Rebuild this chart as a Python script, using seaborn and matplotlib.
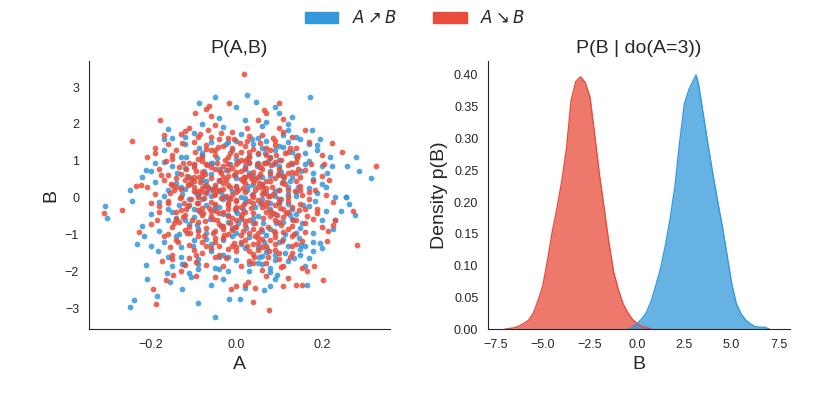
import numpy as np
import matplotlib
matplotlib.use("Agg")
import matplotlib.pyplot as plt
import seaborn as sns
from matplotlib.patches import Patch

# samples of (A, B), A -> B (blue) and A <- B (red)
up_pts = [
    (-0.087, 2.57), (-0.049, 2.72), (0.0, 2.46), (-0.16, 1.87), (-0.22, 0.55), (-0.211, 0.75), (-0.249, 0.2),
    (0.025, 2.78), (0.172, 2.74), (0.046, 2.61), (0.09, 2.46), (0.178, 1.83), (0.197, 1.60), (0.281, 1.09),
    (0.259, 0.86), (0.287, 0.73), (0.316, 0.52), (0.256, 0.02), (0.224, 0.86), (0.212, 0.66),
    (-0.306, -0.22), (-0.303, -0.55), (-0.243, -0.08), (-0.232, -1.25), (-0.211, -1.82), (-0.209, -2.20),
    (-0.185, -2.67), (-0.240, -2.78), (-0.248, -2.96), (-0.163, -2.04), (-0.155, -2.29), (-0.128, -2.47),
    (-0.09, -2.87), (-0.05, -3.24), (-0.105, -2.16), (-0.058, -2.36), (-0.128, -1.80), (-0.122, -1.80),
    (-0.2, -1.32), (-0.215, -1.05), (-0.182, -1.45), (-0.018, -2.74),
    (0.008, -2.74), (0.064, -2.52), (0.08, -2.39), (0.165, -2.38), (0.096, -2.10), (0.17, -1.63), (0.2, -1.38),
    (0.195, -1.24), (0.227, -0.86), (0.232, -0.61), (0.277, -0.48), (0.246, -0.36), (0.264, -0.16),
    (0.256, 0.01), (0.136, -1.65), (0.151, -1.29), (0.079, -1.91),
    (-0.12, 1.45), (0.05, 1.62), (0.11, 1.38), (-0.03, 1.91), (0.14, 1.12), (-0.17, 0.98), (0.02, 0.85),
    (0.08, 0.72), (-0.06, 0.64), (0.13, 0.55),
    (-0.14, 0.41), (0.04, 0.33), (-0.01, 0.18), (0.17, 0.27), (-0.09, 0.08), (0.06, -0.05), (0.12, -0.17),
    (-0.04, -0.26), (-0.15, -0.38), (0.09, -0.44),
    (0.01, -0.59), (-0.11, -0.71), (0.15, -0.83), (-0.07, -0.95), (0.03, -1.08), (0.1, -1.21), (-0.13, -1.34),
    (0.07, -1.47), (-0.02, -1.6), (0.05, -1.78),
    (-0.08, 1.22), (0.0, 1.05), (0.16, 0.9), (-0.19, 0.42), (0.19, 0.12), (-0.18, -0.12), (0.21, -0.35),
    (-0.16, -0.62), (0.18, -0.97), (-0.05, -1.9),
    (0.07, 2.05), (-0.1, 1.76), (0.12, 1.84), (-0.02, 1.52), (0.09, 1.29), (-0.13, 1.1), (0.03, 0.97),
    (-0.04, 0.78), (0.1, 0.61), (-0.08, 0.49),
    (0.06, 0.37), (-0.12, 0.24), (0.14, 0.15), (-0.03, 0.04), (0.02, -0.11), (-0.07, -0.19), (0.08, -0.31),
    (-0.1, -0.52), (0.04, -0.68), (0.13, -0.58),
    (-0.01, -0.82), (0.06, -0.9), (-0.14, -1.03), (0.11, -1.12), (-0.06, -1.26), (0.02, -1.38), (0.15, -1.55),
    (-0.09, -1.68), (0.08, -2.02), (-0.03, -2.21),
    (0.1, 1.02), (0.18, 0.68), (-0.2, 0.71), (0.2, 0.38), (-0.17, 0.05), (0.17, -0.22), (-0.2, -0.45),
    (0.16, -1.31), (-0.13, -1.62), (0.12, -1.72),
    (0.0, 0.52), (-0.05, 0.29), (0.04, 0.1), (0.0, -0.35), (-0.02, -0.48), (0.03, 0.66), (-0.06, 0.93),
    (0.05, 1.18), (-0.09, -0.84), (0.07, -1.02),
    (0.13, 2.2), (-0.04, 2.15), (0.19, 1.44), (-0.15, 1.63), (0.22, 1.1), (-0.22, -0.78), (0.23, 0.02),
    (0.09, -2.2), (-0.11, -2.05), (0.02, -2.45),
    (-0.07, 0.13), (0.11, 0.46), (0.09, 0.19), (-0.11, -0.03), (0.14, -0.45), (-0.03, -1.15), (0.06, -1.58),
    (-0.17, 1.3), (0.15, 1.58), (0.01, 1.72),
    (-0.1, 0.88), (-0.075, 0.31), (-0.05, -0.22), (-0.025, 0.74), (0.0, -0.95), (0.025, 0.21), (0.05, -0.5),
    (0.075, 0.99), (0.1, -0.14), (0.125, 0.45),
    (-0.12, -0.6), (-0.095, 0.12), (-0.07, -1.12), (-0.045, 1.08), (-0.02, 0.0), (0.005, -0.7), (0.03, 1.12),
    (0.055, -0.15), (0.08, -0.85), (0.105, 0.7),
    (-0.11, 0.55), (-0.085, -0.4), (-0.06, 0.2), (-0.035, -0.78), (-0.01, 1.28), (0.015, -0.3), (0.04, 0.58),
    (0.065, -1.2), (0.09, 0.05), (0.115, -1.0),
    (-0.03, -0.05), (0.02, -0.02), (0.07, 0.15), (-0.07, 0.45), (0.1, 1.4), (0.13, 0.9), (0.07, 1.55),
    (0.11, 1.7), (0.16, 1.2), (0.04, 1.45),
    (-0.06, -1.45), (0.0, -1.7), (0.05, -1.35), (-0.1, -1.15), (0.09, -1.55), (0.03, -2.0), (-0.04, -1.95),
    (0.12, -1.3), (-0.15, 0.85), (-0.16, -0.3),
    (0.145, 0.3), (0.155, -0.7), (-0.135, -0.2), (0.18, 0.5), (0.185, -0.1), (0.14, 1.65), (0.1, 2.3),
    (-0.08, 2.0), (0.16, -1.85), (-0.15, -1.85),
    (-0.138, 0.68), (-0.112, -0.22), (-0.086, 1.35), (-0.061, -0.58), (-0.035, 0.14), (-0.009, -1.05),
    (0.017, 0.5), (0.043, -0.25), (0.068, 1.2), (0.094, -0.7), (0.12, 0.3), (0.146, -1.1),
    (-0.133, -1.0), (-0.107, 0.4), (-0.081, -0.05), (-0.056, 0.95), (-0.03, -0.45), (-0.004, 0.62),
    (0.022, -0.82), (0.048, 0.85), (0.073, -1.4), (0.099, 0.22), (0.125, -0.48), (0.151, 0.72),
    (-0.128, 0.1), (-0.102, -1.3), (-0.076, 0.72), (-0.051, -0.3), (-0.025, 1.45), (0.001, -0.42),
    (0.027, 0.32), (0.053, -1.62), (0.078, 0.6), (0.104, -0.05), (0.13, 1.25), (0.156, -0.2),
    (-0.118, 1.1), (-0.092, -0.75), (-0.066, 0.3), (-0.041, -1.6), (-0.015, 0.9), (0.011, 0.02),
    (0.037, 1.6), (0.063, -0.68), (0.088, 0.92), (0.114, -1.5), (0.14, 0.05), (-0.16, 0.2),
    (0.06, 1.95), (0.12, 2.0), (0.02, 2.1), (-0.02, -2.0), (0.06, -1.8), (-0.09, -1.95), (0.17, 1.0),
    (0.18, -1.45), (-0.17, -1.2), (0.2, 0.85),
    (-0.19, 0.95), (-0.18, -0.9), (-0.17, 1.6), (-0.16, -1.6), (0.19, 1.3), (0.2, -0.6), (0.21, 0.3),
    (0.18, -1.2), (0.17, 1.45), (0.15, -1.4),
    (-0.12, 1.65), (-0.09, -1.8), (-0.06, 1.5), (-0.03, -1.55), (0.0, 1.55), (0.03, -1.8), (0.06, 1.35),
    (0.09, -1.7), (0.12, 1.5), (0.14, -0.95),
    (-0.14, -0.55), (-0.12, 0.8), (-0.1, -0.3), (-0.08, 1.15), (0.08, 1.1), (0.1, 0.85), (0.12, 0.1),
    (0.13, -0.3), (0.11, -0.65), (-0.13, 0.3),
    (0.0, 0.3), (0.02, 0.78), (0.04, -0.55), (-0.02, -0.65), (0.06, 0.55), (-0.04, 0.45), (0.08, -0.15),
    (-0.06, 0.05), (0.01, -1.25), (0.05, 0.95),
]

down_pts = [
    (-0.244, 1.54), (-0.178, 2.10), (-0.071, 2.42), (-0.063, 2.48), (-0.018, 2.56), (-0.097, 2.31),
    (-0.21, 1.09), (-0.235, 0.31), (-0.223, 0.35),
    (0.017, 3.35), (0.099, 2.57), (0.066, 2.39), (0.07, 2.29), (0.161, 1.85), (0.225, 1.49), (0.247, 1.24),
    (0.328, 0.87), (0.216, 0.49), (0.205, 0.91),
    (-0.31, -0.41), (-0.267, -0.33), (-0.174, -1.73), (-0.195, -2.48), (-0.187, -2.88), (-0.147, -2.09),
    (-0.164, -2.23), (-0.15, -1.67), (-0.227, -0.93), (-0.095, -2.13), (-0.013, -2.47),
    (0.076, -3.06), (0.04, -2.84), (0.043, -2.45), (0.02, -2.38), (0.027, -2.30), (0.109, -2.39),
    (0.14, -2.36), (0.154, -2.38), (0.203, -2.24), (0.121, -2.19), (0.183, -1.85), (0.165, -2.0),
    (0.153, -1.92), (0.282, -1.29), (0.212, -1.17), (0.226, -0.73), (0.214, -0.9), (0.274, -0.36),
    (0.226, -0.11), (0.23, -0.61), (0.105, -1.88), (0.11, -1.85),
    (-0.1, 1.51), (0.03, 1.68), (0.09, 1.44), (-0.05, 1.97), (0.12, 1.25), (-0.15, 1.05), (0.0, 0.92),
    (0.06, 0.78), (-0.08, 0.7), (0.11, 0.6),
    (-0.12, 0.47), (0.02, 0.39), (-0.03, 0.24), (0.15, 0.31), (-0.07, 0.14), (0.04, 0.01), (0.1, -0.12),
    (-0.02, -0.2), (-0.13, -0.33), (0.07, -0.4),
    (-0.01, -0.55), (-0.09, -0.66), (0.13, -0.77), (-0.05, -0.9), (0.01, -1.02), (0.08, -1.16), (-0.11, -1.29),
    (0.05, -1.42), (-0.04, -1.55), (0.03, -1.72),
    (-0.06, 1.28), (-0.02, 1.11), (0.14, 0.96), (-0.17, 0.48), (0.17, 0.16), (-0.16, -0.08), (0.19, -0.3),
    (-0.14, -0.58), (0.16, -0.92), (-0.07, -1.84),
    (0.05, 2.12), (-0.12, 1.82), (0.1, 1.9), (-0.04, 1.58), (0.07, 1.35), (-0.15, 1.16), (0.01, 1.03),
    (-0.06, 0.84), (0.08, 0.67), (-0.1, 0.55),
    (0.04, 0.43), (-0.14, 0.3), (0.12, 0.21), (-0.05, 0.09), (0.0, -0.06), (-0.09, -0.14), (0.06, -0.26),
    (-0.12, -0.47), (0.02, -0.63), (0.11, -0.53),
    (-0.03, -0.77), (0.04, -0.85), (-0.16, -0.98), (0.09, -1.07), (-0.08, -1.21), (0.0, -1.33), (0.13, -1.5),
    (-0.11, -1.63), (0.06, -1.97), (-0.05, -2.16),
    (0.08, 1.08), (0.16, 0.74), (-0.18, 0.77), (0.18, 0.44), (-0.19, 0.11), (0.15, -0.17), (-0.18, -0.4),
    (0.14, -1.26), (-0.15, -1.57), (0.1, -1.67),
    (-0.02, 0.58), (-0.07, 0.35), (0.02, 0.16), (-0.02, -0.3), (-0.04, -0.43), (0.01, 0.72), (-0.08, 0.99),
    (0.03, 1.24), (-0.11, -0.79), (0.05, -0.96),
    (0.11, 2.14), (-0.06, 2.21), (0.17, 1.5), (-0.17, 1.69), (0.2, 1.16), (-0.2, -0.72), (0.21, 0.08),
    (0.07, -2.14), (-0.13, -2.0), (0.0, -2.39),
    (-0.09, 0.19), (0.09, 0.52), (0.07, 0.25), (-0.13, 0.03), (0.12, -0.39), (-0.05, -1.09), (0.04, -1.52),
    (-0.19, 1.36), (0.13, 1.64), (-0.01, 1.78),
    (0.03, 0.62), (-0.04, 0.47), (0.05, 0.28), (-0.01, 0.07), (0.06, -0.15), (-0.06, -0.5), (0.02, -0.75),
    (-0.03, 0.85), (0.08, 0.04), (-0.08, -0.28),
    (0.0, 0.31), (-0.1, 0.82), (0.1, -0.66), (-0.02, -0.98), (0.07, 1.17), (-0.14, -1.14), (0.12, 0.88),
    (-0.07, 1.42), (0.05, -1.24), (0.01, 0.5),
    (0.15, 0.55), (-0.16, 0.62), (0.18, -0.58), (-0.18, -0.22), (0.09, -1.41), (-0.09, 1.64), (0.2, -0.8),
    (-0.21, 0.3), (0.14, 1.35), (-0.12, -1.83),
    (-0.11, 0.95), (-0.085, 0.42), (-0.06, -0.12), (-0.035, 0.66), (-0.01, -0.88), (0.015, 0.27), (0.04, -0.41),
    (0.065, 0.93), (0.09, -0.2), (0.115, 0.37),
    (-0.125, -0.52), (-0.1, 0.18), (-0.075, -1.05), (-0.05, 1.15), (-0.025, 0.05), (0.0, -0.62), (0.025, 1.06),
    (0.05, -0.07), (0.075, -0.79), (0.1, 0.77),
    (-0.115, 0.6), (-0.09, -0.33), (-0.065, 0.27), (-0.04, -0.72), (-0.015, 1.2), (0.01, -0.25), (0.035, 0.52),
    (0.06, -1.13), (0.085, 0.11), (0.11, -0.94),
    (-0.105, -0.05), (-0.08, 1.1), (-0.055, -0.57), (-0.03, 0.39), (-0.005, -1.22), (0.02, 0.81), (0.045, -0.68),
    (0.07, 0.46), (0.095, -0.46), (0.12, 0.02),
    (-0.095, 0.71), (-0.07, -0.83), (-0.045, 0.17), (-0.02, -0.15), (0.005, 0.98), (0.03, -0.96), (0.055, 0.63),
    (0.08, -0.35), (0.105, 1.02), (-0.13, 0.24),
    (-0.06, 0.52), (-0.03, -0.39), (0.0, 0.14), (0.03, -0.08), (0.06, 0.35), (0.09, -0.61), (-0.09, 0.02),
    (-0.12, -0.88), (0.12, 0.66), (0.0, -1.45),
    (-0.08, -0.48), (-0.05, 0.77), (-0.02, 0.33), (0.01, -0.53), (0.04, 0.69), (0.07, -0.22), (0.1, 0.2),
    (-0.11, 0.38), (0.13, -0.25), (-0.04, -1.3),
    (-0.07, 1.33), (0.02, 1.4), (0.08, 1.28), (-0.1, -1.42), (0.06, -1.35), (-0.135, 0.84), (0.135, -1.0),
    (-0.02, 1.62), (0.04, -1.78), (0.09, 1.53),
    (-0.155, 0.13), (0.155, 0.06), (-0.145, -0.7), (0.145, 0.78), (-0.165, 1.0), (0.165, -0.5), (-0.025, -1.65),
    (0.025, 1.88), (-0.085, 1.73), (0.075, -1.6),
    (-0.045, 0.94), (0.045, 0.2), (-0.015, -0.7), (0.015, 0.44), (0.1, -0.05), (-0.1, 0.3), (0.035, -0.28),
    (-0.035, 0.0), (0.055, 0.82), (-0.055, -0.95),
    (0.0, 0.7), (0.0, -0.1), (0.05, 0.55), (-0.05, 0.35), (0.02, -0.4), (-0.02, 0.9), (0.08, 0.45),
    (-0.08, 0.6), (0.11, -0.3), (-0.11, -0.2),
    (-0.142, 0.52), (-0.118, -0.31), (-0.096, 1.24), (-0.073, -0.64), (-0.051, 0.08), (-0.028, -1.02),
    (-0.006, 0.61), (0.017, -0.18), (0.039, 1.31), (0.062, -0.55), (0.084, 0.29), (0.107, -1.19), (0.129, 0.93),
    (-0.137, -1.21), (-0.114, 0.33), (-0.092, -0.14), (-0.069, 0.88), (-0.047, -0.37), (-0.024, 0.47),
    (-0.002, -0.79), (0.021, 1.0), (0.043, -1.05), (0.066, 0.12), (0.088, -0.9), (0.111, 0.56), (0.133, -0.61),
    (-0.132, 0.0), (-0.109, -0.97), (-0.087, 0.57), (-0.064, -0.28), (-0.042, 1.37), (-0.019, -0.5),
    (0.003, 0.22), (0.026, -1.3), (0.048, 0.9), (0.071, -0.12), (0.093, 1.15), (0.116, -0.42), (0.138, 0.18),
    (-0.127, 1.48), (-0.104, -0.6), (-0.082, 0.14), (-0.059, -1.37), (-0.037, 0.72), (-0.014, -0.05),
    (0.008, 1.47), (0.031, -0.6), (0.053, 0.41), (0.076, -1.45), (0.098, 0.64), (0.121, -0.08), (0.143, 1.08),
    (-0.122, -0.15), (-0.099, 0.92), (-0.077, -0.42), (-0.054, 0.24), (-0.032, -0.86), (-0.009, 0.8),
    (0.013, -0.44), (0.036, 0.06), (0.058, -0.86), (0.081, 0.88), (0.103, -0.27), (0.126, 1.35), (0.148, -0.33),
    (-0.117, 0.78), (-0.094, -1.55), (-0.072, 0.65), (-0.049, -0.17), (-0.027, 1.03), (-0.004, -0.32),
    (0.018, 0.57), (0.041, -1.62), (0.063, 0.24), (0.086, -0.42), (0.108, 0.41), (0.131, -1.3), (-0.152, 0.38),
    (-0.045, -0.6), (-0.015, 0.28), (0.015, -0.9), (0.045, 0.5), (0.075, 0.05), (-0.075, 0.0), (-0.105, 0.5),
    (0.105, -0.75), (0.0, 1.15), (0.0, -0.25), (-0.06, 1.65), (0.06, 1.7), (0.02, -1.15), (-0.03, -1.85),
    (0.09, -1.25), (-0.09, -0.9), (0.14, 0.45), (-0.14, -0.4), (0.03, 0.95), (-0.03, 0.55),
    (-0.19, 1.21), (-0.175, 0.62), (-0.16, 1.45), (-0.145, 0.2), (-0.13, 1.72), (-0.115, -0.95), (-0.2, -0.15),
    (-0.185, -0.6), (-0.17, -1.05), (-0.155, -1.35),
    (-0.14, 1.3), (-0.125, 0.95), (-0.11, 1.9), (-0.095, -1.75), (-0.08, -1.5), (-0.065, 1.85), (-0.05, -1.62),
    (-0.035, 1.75), (-0.02, -1.4), (-0.005, 1.6),
    (0.01, -1.85), (0.025, 1.55), (0.04, -1.25), (0.055, 1.48), (0.07, -1.78), (0.085, 1.62), (0.1, -1.5),
    (0.115, 1.2), (0.13, -1.05), (0.145, 1.15),
    (0.16, -0.7), (0.175, 0.92), (0.19, -0.42), (0.2, 0.6), (0.185, 0.2), (0.17, -0.05), (0.155, -1.18),
    (0.14, 0.68), (0.125, -1.6), (0.11, 1.78),
    (-0.09, 1.05), (-0.07, 0.9), (-0.05, 1.3), (-0.03, 1.4), (-0.01, 1.35), (0.01, 1.25), (0.03, 1.1),
    (0.05, 1.2), (0.07, 0.95), (0.09, 0.98),
    (-0.09, -1.05), (-0.07, -1.3), (-0.05, -1.2), (-0.03, -1.1), (-0.01, -1.3), (0.01, -1.2), (0.03, -1.45),
    (0.05, -1.1), (0.07, -1.3), (0.09, -0.95),
    (-0.13, 0.65), (-0.15, 0.35), (-0.16, -0.15), (-0.135, -0.65), (-0.15, -0.8), (0.13, 0.7), (0.15, 0.2),
    (0.16, -0.3), (0.14, -0.6), (0.12, -0.85),
    (-0.1, 0.45), (-0.04, 0.2), (0.02, 0.55), (0.08, -0.5), (-0.06, -0.35), (0.04, -0.15), (-0.02, 0.75),
    (0.06, 0.1), (0.0, -0.8), (-0.08, 0.25),
]

# density of B under do(A=3)
red_b = [-7.0, -6.75, -6.5, -6.25, -6.0, -5.75, -5.5, -5.25, -5.0, -4.75, -4.5, -4.25, -4.0, -3.75,
         -3.5, -3.25, -3.0, -2.75, -2.5, -2.25, -2.0, -1.75, -1.5, -1.25, -1.0, -0.75, -0.5, -0.25,
         0.0, 0.25, 0.5, 0.75]
red_dens = [0.0, 0.001, 0.002, 0.005, 0.009, 0.014, 0.025, 0.045, 0.068, 0.108, 0.153, 0.19, 0.232, 0.283,
            0.36, 0.39, 0.397, 0.388, 0.365, 0.305, 0.243, 0.19, 0.136, 0.09, 0.062, 0.04, 0.026, 0.015,
            0.009, 0.004, 0.002, 0.0]
blue_b = [-0.5, -0.25, 0.0, 0.25, 0.5, 0.75, 1.0, 1.25, 1.5, 1.75, 2.0, 2.25, 2.5, 2.75, 3.0, 3.12, 3.25,
          3.5, 3.75, 4.0, 4.25, 4.5, 4.75, 5.0, 5.25, 5.5, 5.75, 6.0, 6.25, 6.5, 6.75, 7.0]
blue_dens = [0.0, 0.003, 0.009, 0.016, 0.027, 0.045, 0.07, 0.097, 0.133, 0.175, 0.225, 0.295, 0.355, 0.378,
             0.393, 0.40, 0.385, 0.338, 0.29, 0.245, 0.203, 0.163, 0.118, 0.072, 0.04, 0.024, 0.014,
             0.008, 0.004, 0.003, 0.003, 0.0]

blue = "#3498db"
red = "#e74c3c"

sns.set_style("white")
plt.rcParams['font.family'] = ['Liberation Sans', 'DejaVu Sans']

fig, (ax1, ax2) = plt.subplots(1, 2, figsize=(8.3, 4.15), dpi=100)
ax1.set_position([0.107, 0.207, 0.363, 0.646])
ax2.set_position([0.588, 0.207, 0.364, 0.646])

up = np.array(up_pts)
down = np.array(down_pts)
sns.scatterplot(x=up[:, 0], y=up[:, 1], color=blue, s=17, alpha=0.85, linewidth=0, ax=ax1)
sns.scatterplot(x=down[:, 0], y=down[:, 1], color=red, s=17, alpha=0.85, linewidth=0, ax=ax1)
ax1.set_xlim(-0.345, 0.36)
ax1.set_ylim(-3.57, 3.71)
ax1.set_xticks([-0.2, 0.0, 0.2])
ax1.set_title("P(A,B)", fontsize=14)
ax1.set_xlabel("A", fontsize=14)
ax1.set_ylabel("B", fontsize=14)

sns.lineplot(x=red_b, y=red_dens, color=red, lw=1, ax=ax2)
ax2.fill_between(red_b, red_dens, color=red, alpha=0.75, lw=0)
sns.lineplot(x=blue_b, y=blue_dens, color=blue, lw=1, ax=ax2)
ax2.fill_between(blue_b, blue_dens, color=blue, alpha=0.75, lw=0)
ax2.set_xlim(-7.9, 8.1)
ax2.set_ylim(0, 0.422)
ax2.set_xticks([-7.5, -5.0, -2.5, 0.0, 2.5, 5.0, 7.5])
ax2.set_yticks(np.arange(0, 0.41, 0.05))
ax2.set_title("P(B | do(A=3))", fontsize=14)
ax2.set_xlabel("B", fontsize=14)
ax2.set_ylabel("Density p(B)", fontsize=14)

for ax in (ax1, ax2):
    ax.tick_params(labelsize=9)
    sns.despine(ax=ax)

handles = [Patch(color=blue, label=r"$A \nearrow B$"), Patch(color=red, label=r"$A \searrow B$")]
fig.legend(handles=handles, loc="center", bbox_to_anchor=(0.5, 0.957), ncol=2, frameon=False,
           fontsize=12, handlelength=2.0, columnspacing=2.2)

fig.savefig("out.png", dpi=100)
